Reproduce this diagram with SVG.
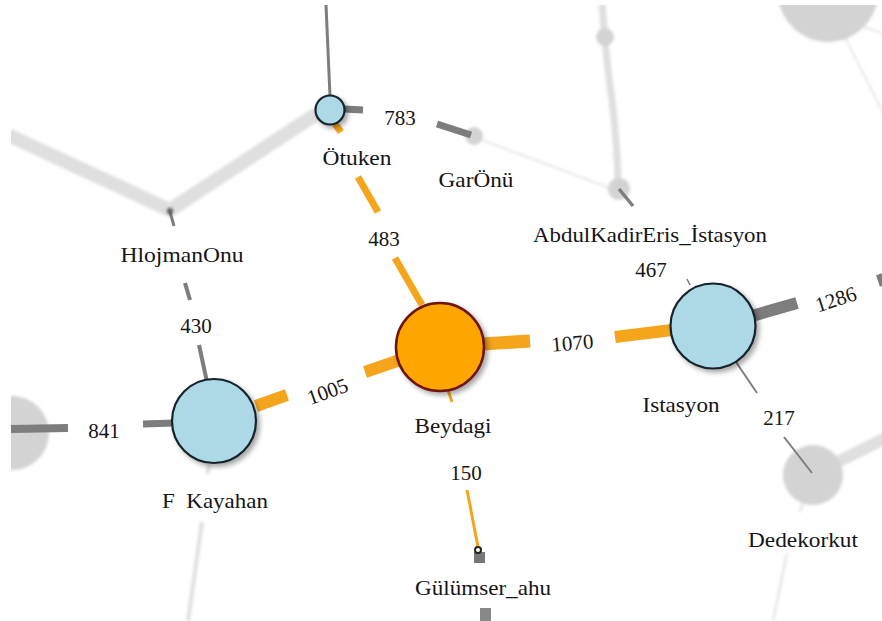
<svg xmlns="http://www.w3.org/2000/svg" width="882" height="621" viewBox="0 0 882 621">
  <defs>
    <style>
      .lbl { font-size: 21px; fill: #151515; text-anchor: middle; }
      .name { white-space: pre; }
      .faint { stroke: #dfdfdf; fill: none; stroke-linecap: butt; }
      .ghost { fill: #d3d3d3; }
      .gray { stroke: #7d7d7d; fill: none; }
      .gold { stroke: #F4A51C; fill: none; }
      .blue { fill: #ADD8E6; stroke: #15232c; stroke-width: 2.2; }
    </style>
    <filter id="shadow" x="-30%" y="-30%" width="170%" height="170%">
      <feDropShadow dx="3" dy="3" stdDeviation="2.5" flood-color="#000" flood-opacity="0.35"/>
    </filter>
    <filter id="soft" x="-20%" y="-20%" width="140%" height="140%">
      <feGaussianBlur stdDeviation="1.6"/>
    </filter>
    <clipPath id="frame">
      <rect x="11" y="5" width="871" height="616"/>
    </clipPath>
  </defs>
  <rect width="882" height="621" fill="#ffffff"/>

  <g clip-path="url(#frame)">
    <!-- faded background network -->
    <g id="background" filter="url(#soft)">
      <path class="faint" d="M8 135 L170 210 L318 113" stroke-width="14" stroke-linejoin="miter"/>
      <path class="faint" d="M602 2 Q 606 60 612 100 Q 618 150 618 189" stroke-width="7" stroke="#e0e0e0"/>
      <line class="faint" x1="474" y1="137" x2="615" y2="190" stroke-width="1.5" stroke="#e6e6e6"/>
      <line class="faint" x1="813" y1="474" x2="886" y2="438" stroke-width="12" stroke="#e2e2e2"/>
      <line class="faint" x1="810" y1="480" x2="800" y2="512" stroke-width="2" stroke="#dedede"/>
      <line class="faint" x1="787" y1="553" x2="773" y2="621" stroke-width="2" stroke="#dedede"/>
      <line class="faint" x1="210" y1="464" x2="207" y2="474" stroke-width="4" stroke="#d6d6d6"/>
      <line class="faint" x1="202" y1="522" x2="188" y2="621" stroke-width="4" stroke="#e2e2e2"/>
      <line class="faint" x1="826" y1="0" x2="884" y2="114" stroke-width="1.5" stroke="#cccccc"/>
      <line class="faint" x1="850" y1="22" x2="884" y2="34" stroke-width="1.5" stroke="#cccccc"/>
      <circle class="ghost" cx="828" cy="-8" r="50" fill="#cbcbcb"/>
      <circle class="ghost" cx="12" cy="433" r="37" fill="#d2d2d2"/>
      <circle class="ghost" cx="813" cy="475" r="30" fill="#dadada"/>
      <circle class="ghost" cx="474" cy="136" r="9" fill="#dcdcdc"/>
      <circle class="ghost" cx="619" cy="189" r="11" fill="#d8d8d8"/>
      <circle class="ghost" cx="605" cy="37" r="9" fill="#d6d6d6"/>
    </g>

    <!-- connectors -->
    <g id="connectors">
      <!-- Otuken up -->
      <line class="gray" x1="326" y1="5" x2="330" y2="96" stroke-width="3" stroke="#888"/>
      <!-- Otuken - GarOnu (783) -->
      <line class="gray" x1="344" y1="109" x2="363" y2="110" stroke-width="7"/>
      <line class="gray" x1="437" y1="124" x2="471" y2="135" stroke-width="7"/>
      <!-- AbdulKadirEris stub -->
      <line class="gray" x1="619" y1="189" x2="633" y2="206" stroke-width="3.5" stroke="#666"/>
      <line class="gray" x1="687" y1="279" x2="690" y2="285" stroke-width="1.5" stroke="#999"/>
      <!-- Otuken - Beydagi (483) -->
      <line class="gold" x1="335" y1="124" x2="341" y2="132" stroke-width="7"/>
      <line class="gold" x1="358" y1="177" x2="378" y2="212" stroke-width="7"/>
      <line class="gold" x1="395" y1="258" x2="422" y2="305" stroke-width="7"/>
      <!-- Beydagi - F Kayahan (1005) -->
      <line class="gold" x1="256" y1="406" x2="287" y2="395" stroke-width="12"/>
      <line class="gold" x1="365" y1="372" x2="400" y2="360" stroke-width="12"/>
      <!-- Beydagi - Istasyon (1070) -->
      <line class="gold" x1="482" y1="344" x2="530" y2="341" stroke-width="13"/>
      <line class="gold" x1="615" y1="337" x2="672" y2="330" stroke-width="12"/>
      <!-- Istasyon - right (1286) -->
      <line class="gray" x1="752" y1="316" x2="797" y2="303" stroke-width="12" stroke="#777"/>
      <line class="gray" x1="878" y1="281" x2="890" y2="277" stroke-width="12" stroke="#777"/>
      <!-- Istasyon - Dedekorkut (217) -->
      <line class="gray" x1="736" y1="362" x2="757" y2="393" stroke-width="2" stroke="#6e6e6e"/>
      <line class="gray" x1="784" y1="437" x2="812" y2="473" stroke-width="2" stroke="#7a7a7a"/>
      <!-- F Kayahan - HlojmanOnu (430) -->
      <line class="gray" x1="170" y1="212" x2="174" y2="226" stroke-width="3" stroke="#777"/>
      <line class="gray" x1="185" y1="283" x2="190" y2="300" stroke-width="4" stroke="#858585"/>
      <line class="gray" x1="199" y1="345" x2="207" y2="382" stroke-width="4" stroke="#858585"/>
      <!-- F Kayahan - left (841) -->
      <line class="gray" x1="143" y1="424" x2="174" y2="423" stroke-width="7"/>
      <line class="gray" x1="8" y1="429" x2="68" y2="428" stroke-width="8" stroke="#8a8a8a"/>
      <!-- Beydagi - Gulumser_ahu (150) -->
      <line class="gold" x1="448" y1="390" x2="452" y2="402" stroke-width="3"/>
      <line class="gold" x1="467" y1="490" x2="478" y2="547" stroke-width="3"/>
      <rect x="474" y="552" width="11" height="11" fill="#777"/>
      <rect x="480" y="608" width="11" height="13" fill="#888"/>
    </g>

    <!-- nodes -->
    <g id="node-hlojmanonu">
      <circle cx="170" cy="211" r="3" fill="#555" filter="url(#soft)"/>
    </g>
    <g id="node-otuken">
      <circle class="blue" cx="330" cy="110" r="14.5" filter="url(#shadow)"/>
    </g>
    <g id="node-beydagi">
      <circle cx="440" cy="347" r="44" fill="#FFA500" stroke="#6e1410" stroke-width="2.5" filter="url(#shadow)"/>
    </g>
    <g id="node-fkayahan">
      <circle class="blue" cx="214" cy="421" r="42" filter="url(#shadow)"/>
    </g>
    <g id="node-istasyon">
      <circle class="blue" cx="713" cy="326" r="42.5" filter="url(#shadow)"/>
    </g>
    <g id="node-gulumser">
      <circle cx="478" cy="550" r="3" fill="#fff" stroke="#222" stroke-width="2"/>
    </g>
  </g>

  <!-- labels -->
  <g id="labels" font-family="'Liberation Serif', 'Times New Roman', serif">
    <text class="lbl" x="357" y="165" textLength="69" lengthAdjust="spacingAndGlyphs">Ötuken</text>
    <text class="lbl" x="476" y="187" textLength="75" lengthAdjust="spacingAndGlyphs">GarÖnü</text>
    <text class="lbl" x="650" y="242" textLength="234" lengthAdjust="spacingAndGlyphs">AbdulKadirEris_İstasyon</text>
    <text class="lbl" x="182" y="262" textLength="123" lengthAdjust="spacingAndGlyphs">HlojmanOnu</text>
    <text class="lbl" x="453" y="433" textLength="77" lengthAdjust="spacingAndGlyphs">Beydagi</text>
    <text class="lbl" x="681" y="412" textLength="77" lengthAdjust="spacingAndGlyphs">Istasyon</text>
    <text class="lbl name" x="215" y="508" textLength="106" lengthAdjust="spacingAndGlyphs">F  Kayahan</text>
    <text class="lbl" x="483" y="595" textLength="136" lengthAdjust="spacingAndGlyphs">Gülümser_ahu</text>
    <text class="lbl" x="803" y="547" textLength="110" lengthAdjust="spacingAndGlyphs">Dedekorkut</text>

    <text class="lbl" x="400" y="125">783</text>
    <text class="lbl" x="384" y="246">483</text>
    <text class="lbl" x="196" y="333">430</text>
    <text class="lbl" x="104" y="438">841</text>
    <text class="lbl" x="651" y="277">467</text>
    <text class="lbl" x="779" y="425">217</text>
    <text class="lbl" x="466" y="480">150</text>
    <text class="lbl" transform="translate(330 398) rotate(-20)">1005</text>
    <text class="lbl" transform="translate(573 350) rotate(-5)">1070</text>
    <text class="lbl" transform="translate(838 306) rotate(-18)">1286</text>
  </g>
</svg>
